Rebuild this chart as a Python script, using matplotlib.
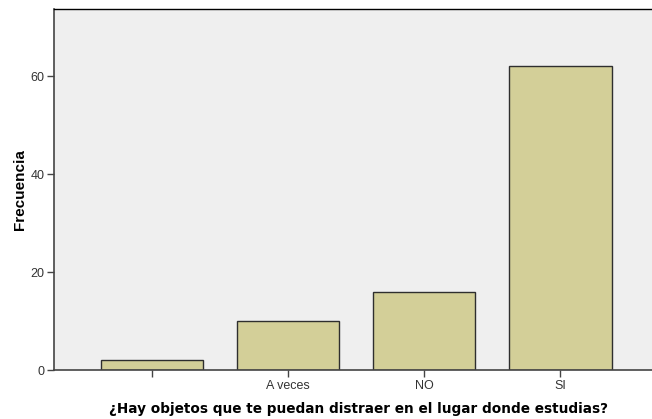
import matplotlib
matplotlib.use("Agg")
import matplotlib.pyplot as plt

categories = ["", "A veces", "NO", "SI"]
counts = [2, 10, 16, 62]
yticks = [0, 20, 40, 60]

fig = plt.figure(figsize=(6.52, 4.19), dpi=100)
ax = fig.add_axes([54 / 652, 1 - 370 / 419, 1 - 54 / 652 + 0.01, 361 / 419])
ax.set_facecolor("#efefef")

pos = list(range(len(categories)))
ax.bar(pos, counts, width=0.75, color="#d3cf98", edgecolor="#2e2e2e", linewidth=1.0, zorder=2)

ax.set_xlim(-0.72, 3.72)
ax.set_ylim(0, 73.7)
ax.set_xticks(pos)
ax.set_xticklabels(categories, fontfamily="Liberation Sans", fontsize=9, color="#333333")
ax.set_yticks(yticks)
ax.set_yticklabels([str(v) for v in yticks], fontfamily="Liberation Sans", fontsize=9, color="#333333")
ax.tick_params(axis="both", direction="out", length=5, width=1.0, color="#444444", pad=2)

for s in ["left", "bottom"]:
    ax.spines[s].set_color("#444444")
    ax.spines[s].set_linewidth(1.2)
ax.spines["top"].set_color("#000000")
ax.spines["top"].set_linewidth(1.0)
ax.spines["right"].set_visible(False)

ax.set_ylabel("Frecuencia", fontfamily="Liberation Sans", fontweight="bold", fontsize=11)
ax.yaxis.set_label_coords((27 - 54) / 598, 0.5)
ax.set_xlabel("¿Hay objetos que te puedan distraer en el lugar donde estudias?",
              fontfamily="DejaVu Sans", fontweight="bold", fontsize=9.8)
ax.xaxis.set_label_coords((355 - 54) / 598, -32 / 361)

fig.savefig("out.png", dpi=100)
